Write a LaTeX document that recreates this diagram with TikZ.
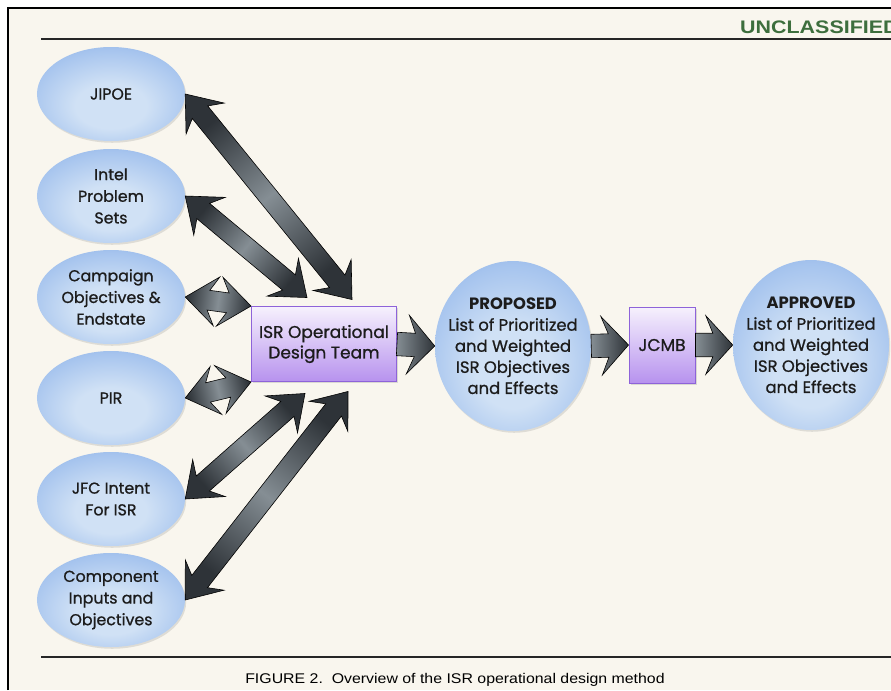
\documentclass[tikz,border=0pt]{standalone}
\usepackage{fontspec}
\usepackage{graphicx}
\setsansfont{Poppins}[UprightFeatures={FakeBold=0.9}]
\newfontfamily\captionfont{Liberation Sans}
\usetikzlibrary{positioning, calc, shadows, shapes.geometric}

\definecolor{paper}{HTML}{F9F6EE}
\definecolor{inkdark}{HTML}{1C1C1C}
\definecolor{inkgreen}{HTML}{3D6E3D}
\definecolor{skycore}{HTML}{D0E1F5}
\definecolor{skymid}{HTML}{A6C4EE}
\definecolor{skyedge}{HTML}{7BA2DE}
\definecolor{lilactop}{HTML}{F6F1FD}
\definecolor{lilac}{HTML}{B792EE}
\definecolor{lilacedge}{HTML}{8E63D9}
\definecolor{steeldark}{HTML}{2E3338}
\definecolor{steellight}{HTML}{858E94}

\pgfdeclareradialshading{skyorb}{\pgfpoint{0bp}{-8bp}}{%
  color(0bp)=(skycore); color(12bp)=(skycore); color(28bp)=(skymid);
  color(40bp)=(skyedge); color(60bp)=(skyedge)}

% fat double-headed arrow, tips at #1 and #2
\newcommand{\twowayarrow}[2]{%
  \path let \p1=($(#2)-(#1)$) in
    \pgfextra{\pgfmathsetmacro\arrang{atan2(\y1,\x1)}%
              \pgfmathsetmacro\arrlen{veclen(\x1,\y1)}%
              \xdef\arrang{\arrang}\xdef\arrlen{\arrlen}};
  \pgfmathsetmacro\arrfar{\arrlen-27}%
  \pgfmathsetmacro\arrneck{\arrlen-20}%
  \pgfmathsetmacro\arrsheen{\arrang+90}%
  \shadedraw[twoway, shading angle=\arrsheen, shift={(#1)}, rotate=\arrang]
    (0pt,0pt) -- (27pt,21pt) -- (20pt,8.5pt) -- (\arrneck pt,8.5pt)
    -- (\arrfar pt,21pt) -- (\arrlen pt,0pt) -- (\arrfar pt,-21pt)
    -- (\arrneck pt,-8.5pt) -- (20pt,-8.5pt) -- (27pt,-21pt) -- cycle;
}

% fat single arrow, tail at #1, tip at #2
\newcommand{\onewayarrow}[2]{%
  \path let \p1=($(#2)-(#1)$) in
    \pgfextra{\pgfmathsetmacro\arrang{atan2(\y1,\x1)}%
              \pgfmathsetmacro\arrlen{veclen(\x1,\y1)}%
              \xdef\arrang{\arrang}\xdef\arrlen{\arrlen}};
  \pgfmathsetmacro\arrfar{\arrlen-23}%
  \pgfmathsetmacro\arrneck{\arrlen-17}%
  \shadedraw[oneway, shift={(#1)}, rotate=\arrang]
    (0pt,10pt) -- (\arrneck pt,10pt) -- (\arrfar pt,25pt) -- (\arrlen pt,0pt)
    -- (\arrfar pt,-25pt) -- (\arrneck pt,-10pt) -- (0pt,-10pt) -- cycle;
}

\begin{document}
\begin{tikzpicture}[
    x=0.03cm, y=-0.03cm,
    % Styles
    sourceoval/.style={ellipse, shading=skyorb, minimum width=4.44cm, minimum height=2.82cm, inner xsep=-4pt, inner ysep=-6pt, align=center, text=inkdark, font=\sffamily\fontsize{13.5}{18.5}\selectfont, drop shadow={opacity=0.22, shadow xshift=1pt, shadow yshift=-1.5pt}},
    listoval/.style={ellipse, shading=skyorb, minimum width=4.68cm, minimum height=5.1cm, inner xsep=-16pt, inner ysep=-6pt, align=center, text=inkdark, font=\sffamily\fontsize{14}{18}\selectfont, drop shadow={opacity=0.22, shadow xshift=1pt, shadow yshift=-1.5pt}},
    teambox/.style={rectangle, top color=lilactop, bottom color=lilac, draw=lilacedge, line width=0.8pt, align=center, text=inkdark, font=\sffamily\fontsize{14.5}{17.5}\selectfont, drop shadow={opacity=0.25, shadow xshift=1.5pt, shadow yshift=-1.5pt}},
    twoway/.style={top color=steeldark, bottom color=steeldark, middle color=steellight, draw=black, line width=0.5pt, line join=miter},
    oneway/.style={left color=steellight, right color=steeldark, draw=black, line width=0.5pt, line join=miter},
    rulebar/.style={line width=2pt, draw=black!85}
]

\useasboundingbox (0,0) rectangle (891,690);
\fill[white] (0,0) rectangle (891,690);
\fill[paper] (8,8) rectangle (891,690);
\draw[line width=1.5pt, black] (8,690) -- (8,8) -- (891,8);

% ==================== HEADER / FOOTER ====================
\node[anchor=base west, inner sep=0, font=\captionfont\bfseries\fontsize{15.5}{18}\selectfont, text=inkgreen] (banner) at (740,33) {\scalebox{1.18}[1]{UNCLASSIFIED}};
\draw[rulebar] (41,39) -- (891,39);
\draw[rulebar] (41,657) -- (891,657);
\node[anchor=base, inner sep=0, font=\captionfont\fontsize{12}{14}\selectfont, text=black] (caption) at (455,683) {\scalebox{1.13}[1]{FIGURE 2.\ \ Overview of the ISR operational design method}};

% ==================== INPUTS ====================
\node[sourceoval] (jipoe) at (111,94) {JIPOE};
\node[sourceoval] (intel) at (111,196) {Intel\\Problem\\Sets};
\node[sourceoval] (campaign) at (111,297) {Campaign\\Objectives \&\\Endstate};
\node[sourceoval] (pir) at (111,398) {PIR};
\node[sourceoval] (jfc) at (111,499) {JFC Intent\\For ISR};
\node[sourceoval] (component) at (111,600) {Component\\Inputs and\\Objectives};

% ==================== DESIGN FLOW ====================
\node[teambox, minimum width=4.35cm, minimum height=2.25cm] (isr) at (324,344) {ISR Operational\\Design Team};
\node[listoval] (proposed) at (513,346) {\textbf{PROPOSED}\\List of Prioritized\\and Weighted\\ISR Objectives\\and Effects};
\node[teambox, minimum width=1.98cm, minimum height=2.28cm] (jcmb) at (662,345) {JCMB};
\node[listoval] (approved) at (811,345) {\textbf{APPROVED}\\List of Prioritized\\and Weighted\\ISR Objectives\\and Effects};

% arrow ends at the team box
\coordinate (jipoe-in) at ($(isr.north)+(28,-6.5)$);
\coordinate (intel-in) at ($(isr.north)+(-17,-8.5)$);
\coordinate (campaign-in) at (isr.north west);
\coordinate (pir-in) at (isr.south west);
\coordinate (jfc-in) at ($(isr.south)+(-19,11.5)$);
\coordinate (component-in) at ($(isr.south)+(24,9.5)$);

\twowayarrow{jipoe.east}{jipoe-in}
\twowayarrow{intel.east}{intel-in}
\twowayarrow{campaign.east}{campaign-in}
\twowayarrow{pir.east}{pir-in}
\twowayarrow{jfc.east}{jfc-in}
\twowayarrow{component.east}{component-in}

\onewayarrow{isr.east}{proposed.west}
\onewayarrow{proposed.east}{jcmb.west}
\onewayarrow{jcmb.east}{approved.west}

\end{tikzpicture}
\end{document}
